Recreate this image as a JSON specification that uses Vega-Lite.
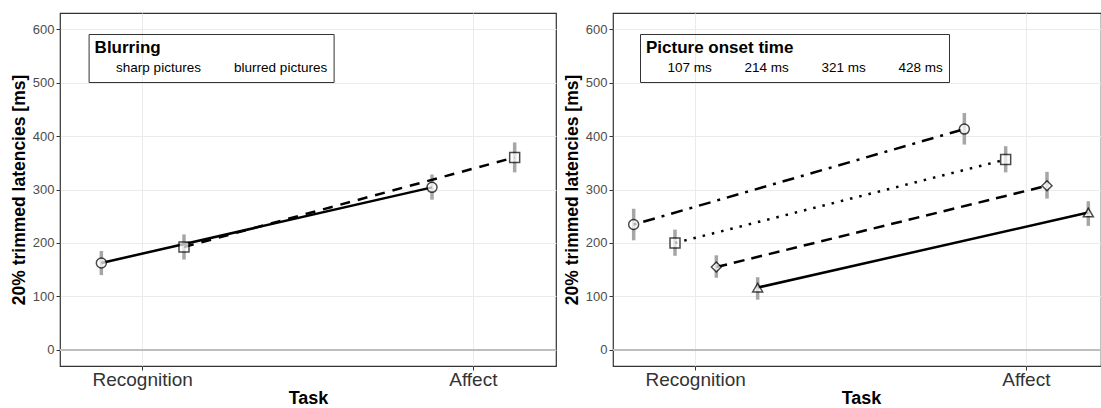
{
  "$schema": "https://vega.github.io/schema/vega-lite/v6.json",
  "padding": {"left": 9, "top": 12, "right": 0, "bottom": 0},
  "background": "white",
  "spacing": 4,
  "datasets": {
    "blur": [
      {"task": "Recognition", "group": "sharp pictures", "ms": 162.6, "lo": 140, "hi": 185},
      {"task": "Recognition", "group": "blurred pictures", "ms": 192.5, "lo": 169, "hi": 216},
      {"task": "Affect", "group": "sharp pictures", "ms": 304, "lo": 281, "hi": 328},
      {"task": "Affect", "group": "blurred pictures", "ms": 360, "lo": 332, "hi": 388}
    ],
    "onset": [
      {"task": "Recognition", "group": "107 ms", "ms": 234.5, "lo": 205, "hi": 264},
      {"task": "Recognition", "group": "214 ms", "ms": 200, "lo": 176, "hi": 225},
      {"task": "Recognition", "group": "321 ms", "ms": 155, "lo": 135, "hi": 177},
      {"task": "Recognition", "group": "428 ms", "ms": 116.6, "lo": 94, "hi": 136},
      {"task": "Affect", "group": "107 ms", "ms": 413, "lo": 384, "hi": 443},
      {"task": "Affect", "group": "214 ms", "ms": 356, "lo": 332, "hi": 381},
      {"task": "Affect", "group": "321 ms", "ms": 307, "lo": 283, "hi": 333},
      {"task": "Affect", "group": "428 ms", "ms": 257, "lo": 232, "hi": 278}
    ]
  },
  "resolve": {
    "scale": {"x": "independent", "xOffset": "independent", "y": "independent", "shape": "independent"},
    "legend": {"shape": "independent"}
  },
  "hconcat": [
    {
      "width": 496,
      "height": 353,
      "data": {"name": "blur"},
      "layer": [
        {
          "mark": {"type": "rule", "color": "#BEBEBE", "strokeWidth": 1.5},
          "encoding": {
            "y": {"datum": 0, "type": "quantitative", "scale": {"domain": [-30, 630], "nice": false, "zero": false}, "title": "20% trimmed latencies [ms]"}
          }
        },
        {
          "encoding": {
            "x": {"field": "task", "type": "nominal", "scale": {"type": "band", "domain": ["Recognition", "Affect"], "paddingInner": 0.5, "paddingOuter": 0}, "title": "Task"},
            "xOffset": {"field": "group", "type": "nominal", "scale": {"type": "band", "domain": ["sharp pictures", "blurred pictures"], "paddingInner": 0, "paddingOuter": 0}},
            "y": {"field": "ms", "type": "quantitative", "title": "20% trimmed latencies [ms]"}
          },
          "layer": [
            {
              "mark": {"type": "rule", "color": "#A6A6A6", "strokeWidth": 3.5},
              "encoding": {
                "y": {"field": "lo", "type": "quantitative", "title": "20% trimmed latencies [ms]"},
                "y2": {"field": "hi"}
              }
            },
            {
              "transform": [{"filter": "datum.group === 'sharp pictures'"}],
              "mark": {"type": "line", "color": "black", "strokeWidth": 2.5},
              "encoding": {}
            },
            {
              "transform": [{"filter": "datum.group === 'blurred pictures'"}],
              "mark": {"type": "line", "color": "black", "strokeWidth": 2.5, "strokeDash": [10, 8]},
              "encoding": {}
            },
            {
              "mark": {"type": "point", "color": "black", "fill": "white", "strokeWidth": 1.5, "size": 100},
              "encoding": {
                "shape": {"field": "group", "type": "nominal", "title": "Blurring", "scale": {"domain": ["sharp pictures", "blurred pictures"], "range": ["circle", "square"]},
                  "legend": {"orient": "none", "legendX": 28.6, "legendY": 21, "direction": "horizontal", "symbolStrokeColor": "black", "symbolStrokeWidth": 1.5}}
              }
            }
          ]
        }
      ]
    },
    {
      "width": 488,
      "height": 353,
      "data": {"name": "onset"},
      "layer": [
        {
          "mark": {"type": "rule", "color": "#BEBEBE", "strokeWidth": 1.5},
          "encoding": {
            "y": {"datum": 0, "type": "quantitative", "scale": {"domain": [-30, 630], "nice": false, "zero": false}, "title": "20% trimmed latencies [ms]"}
          }
        },
        {
          "encoding": {
            "x": {"field": "task", "type": "nominal", "scale": {"type": "band", "domain": ["Recognition", "Affect"], "paddingInner": 0.5, "paddingOuter": 0, "range": [0, 496]}, "title": "Task"},
            "xOffset": {"field": "group", "type": "nominal", "scale": {"type": "band", "domain": ["107 ms", "214 ms", "321 ms", "428 ms"], "paddingInner": 0, "paddingOuter": 0}},
            "y": {"field": "ms", "type": "quantitative", "title": "20% trimmed latencies [ms]"}
          },
          "layer": [
            {
              "mark": {"type": "rule", "color": "#A6A6A6", "strokeWidth": 3.5},
              "encoding": {
                "y": {"field": "lo", "type": "quantitative", "title": "20% trimmed latencies [ms]"},
                "y2": {"field": "hi"}
              }
            },
            {
              "transform": [{"filter": "datum.group === '107 ms'"}],
              "mark": {"type": "line", "color": "black", "strokeWidth": 2.5, "strokeDash": [3, 7, 12, 7]},
              "encoding": {}
            },
            {
              "transform": [{"filter": "datum.group === '214 ms'"}],
              "mark": {"type": "line", "color": "black", "strokeWidth": 2.5, "strokeDash": [2.5, 7]},
              "encoding": {}
            },
            {
              "transform": [{"filter": "datum.group === '321 ms'"}],
              "mark": {"type": "line", "color": "black", "strokeWidth": 2.5, "strokeDash": [11, 7]},
              "encoding": {}
            },
            {
              "transform": [{"filter": "datum.group === '428 ms'"}],
              "mark": {"type": "line", "color": "black", "strokeWidth": 2.5},
              "encoding": {}
            },
            {
              "mark": {"type": "point", "color": "black", "fill": "white", "strokeWidth": 1.5, "size": 100},
              "encoding": {
                "shape": {"field": "group", "type": "nominal", "title": "Picture onset time", "scale": {"domain": ["107 ms", "214 ms", "321 ms", "428 ms"], "range": ["circle", "square", "diamond", "triangle-up"]},
                  "legend": {"orient": "none", "legendX": 27, "legendY": 21, "direction": "horizontal", "symbolStrokeColor": "black", "symbolStrokeWidth": 1.5}}
              }
            }
          ]
        }
      ]
    }
  ],
  "config": {
    "font": "Liberation Sans",
    "view": {"stroke": "#333333", "strokeWidth": 1.2},
    "axis": {"grid": true, "gridColor": "#EBEBEB", "gridWidth": 1, "domain": false, "tickColor": "#333333", "tickSize": 4, "titleColor": "black", "titleFontWeight": "bold"},
    "axisX": {"labelFontSize": 19, "labelColor": "#333333", "labelAngle": 0, "labelPadding": 0, "titleFontSize": 18, "titlePadding": 0, "bandPosition": 0.5},
    "axisY": {"values": [0, 100, 200, 300, 400, 500, 600], "labelFontSize": 13, "labelColor": "#4D4D4D", "labelPadding": 2, "titleFontSize": 17.5, "titlePadding": 4},
    "legend": {"titleFontSize": 17, "titleFontWeight": "bold", "titleColor": "black", "labelFontSize": 13.5, "labelColor": "black", "strokeColor": "#333333", "padding": 6, "columnPadding": 9, "labelOffset": 8, "titlePadding": 4}
  }
}
